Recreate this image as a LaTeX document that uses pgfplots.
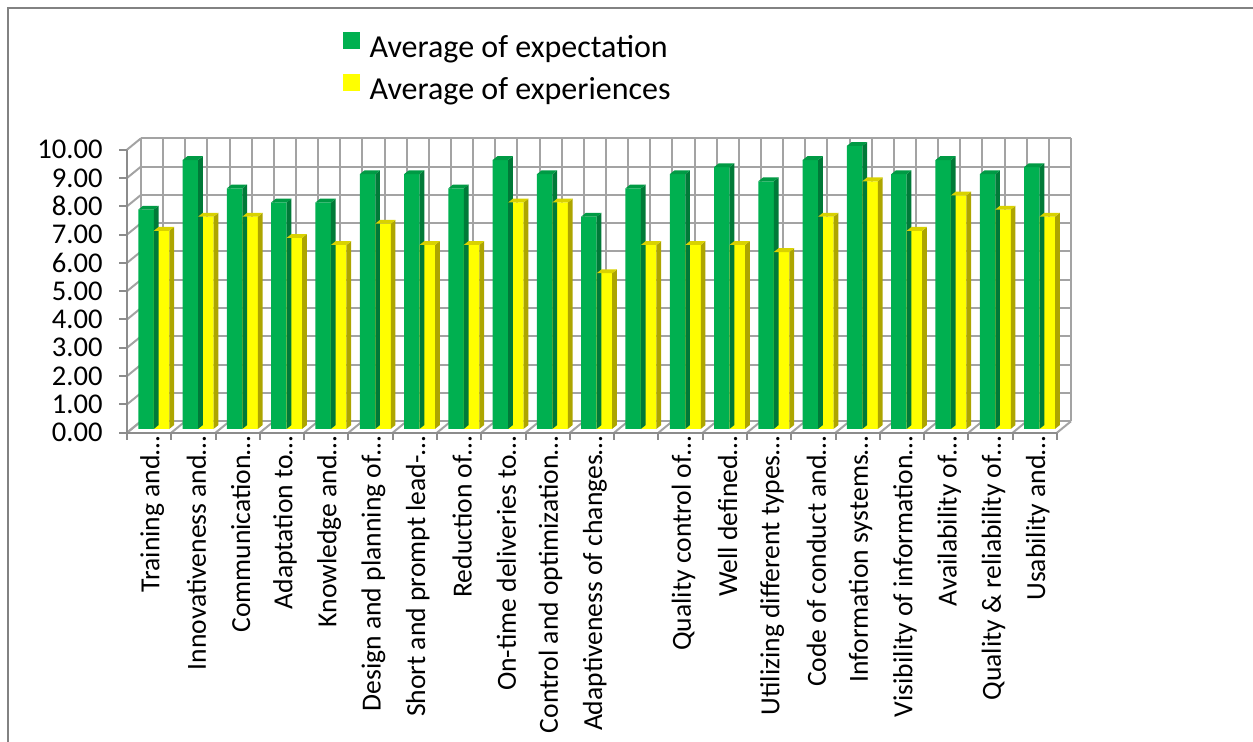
\documentclass[border=0pt]{standalone}
\usepackage{pgfplots}
\pgfplotsset{compat=1.18}
\usepackage{pgfplotstable}
\usepackage{fontspec}
\setmainfont{Carlito}

\definecolor{expfront}{HTML}{00B050}
\definecolor{exptop}{HTML}{009A44}
\definecolor{expside}{HTML}{007A38}
\definecolor{xpfront}{HTML}{FFFF00}
\definecolor{xptop}{HTML}{D9D200}
\definecolor{xpside}{HTML}{ADA500}
\definecolor{wallgrid}{HTML}{A3A3A3}
\definecolor{axisgray}{HTML}{8C8C8C}
\definecolor{framegray}{HTML}{828282}

\pgfplotstableread{
i expect exper
1  7.75 7.00
2  9.50 7.50
3  8.50 7.50
4  8.00 6.75
5  8.00 6.50
6  9.00 7.25
7  9.00 6.50
8  8.50 6.50
9  9.50 8.00
10 9.00 8.00
11 7.50 5.50
12 8.50 6.50
13 9.00 6.50
14 9.25 6.50
15 8.75 6.25
16 9.50 7.50
17 10.00 8.75
18 9.00 7.00
19 9.50 8.25
20 9.00 7.75
21 9.25 7.50
}\ratings

% an empty plot mark: the faces are drawn by the scatter code
\pgfdeclareplotmark{nothing}{}

% side and top faces of a bar, drawn from the centre of its front top edge
% #1 value, #2 side colour, #3 top colour
\newcommand{\barfaces}[3]{%
  \pgfmathsetlengthmacro\barh{#1*14.15pt}%
  \fill[#2] (3.875pt,0pt) -- ++(2.35pt,1.9pt) -- ++(0pt,-\barh) -- ++(-2.35pt,-1.9pt) -- cycle;
  \fill[#3] (-3.875pt,0pt) -- (3.875pt,0pt) -- ++(2.35pt,1.9pt) -- ++(-7.75pt,0pt) -- cycle;
}

\tikzset{
  backwall/.style={shift={(4.65pt,3.8pt)}},
  frontedge/.style={shift={(-2.35pt,-1.9pt)}},
}

\begin{document}
\begin{tikzpicture}
\useasboundingbox (0,0) rectangle (626.5pt,371pt);
% chart area frame
\draw[framegray, line width=1pt] (4.1pt,0pt) -- (4.1pt,366.8pt) -- (626.5pt,366.8pt);

\begin{axis}[
  at={(65.85pt,156.55pt)}, anchor=south west,
  x=22.143pt, y=14.15pt,
  xmin=0.5, xmax=21.5, ymin=0, ymax=10,
  clip=false,
  axis line style={draw=none},
  major tick length=0pt,
  ytick={0,...,10},
  /pgf/number format/fixed,
  /pgf/number format/fixed zerofill,
  /pgf/number format/precision=2,
  /pgf/number format/assume math mode=true,
  yticklabel style={font=\fontsize{14.3}{16}\selectfont, anchor=east,
    inner sep=0pt, xshift=-14.35pt, yshift=-1.9pt},
  xtick={1,...,11,13,14,...,21},
  xticklabels={Training and…, Innovativeness and…, Communication…,
    Adaptation to…, Knowledge and…, Design and planning of…,
    Short and prompt lead-…, Reduction of…, On-time deliveries to…,
    Control and optimization…, Adaptiveness of changes…,
    Quality control of…, Well defined…, Utilizing different types…,
    Code of conduct and…, Information systems…, Visibility of information…,
    Availability of…, Quality \& reliability of…, Usability and…},
  xticklabel style={font=\fontsize{13.8}{16}\selectfont, xshift=-0.9pt, yshift=-3.4pt,
    rotate=90, anchor=east, inner sep=0pt},
  legend style={at={(axis description cs:0.2272,1.4035)}, anchor=north west,
    draw=none, fill=none, inner sep=0pt, row sep=4pt,
    font=\fontsize{16}{18}\selectfont,
    nodes={inner sep=0pt, text height=12pt, text depth=4pt},
    /tikz/every odd column/.append style={column sep=4.6pt}},
  legend cell align=left,
]
% back wall grid
\pgfplotsinvokeforeach{0,...,10}{
  \draw[wallgrid, line width=1pt, backwall] (axis cs:0.5,#1) -- (axis cs:21.5,#1);
  \draw[wallgrid, line width=1pt] ([frontedge]axis cs:0.5,#1) -- ([backwall]axis cs:0.5,#1);
  \draw[axisgray, line width=1pt] ([frontedge]axis cs:0.5,#1) -- ++(-4pt,0pt);
}
\pgfplotsinvokeforeach{0.5,1,...,21.5}{
  \draw[wallgrid, line width=1pt, backwall] (axis cs:#1,0) -- (axis cs:#1,10);
}
% floor
\pgfplotsinvokeforeach{0.5,1.5,...,21.5}{
  \draw[wallgrid, line width=1pt] ([frontedge]axis cs:#1,0) -- ([backwall]axis cs:#1,0);
  \draw[axisgray, line width=1pt] ([frontedge]axis cs:#1,0) -- ++(0pt,-3.5pt);
}
\draw[axisgray, line width=1pt] ([frontedge]axis cs:0.5,0) -- ([frontedge]axis cs:21.5,0);
\draw[axisgray, line width=1pt] ([frontedge]axis cs:0.5,0) -- ([frontedge]axis cs:0.5,10);

% average of expectation
\addplot[ybar, bar width=7.75pt, bar shift=0pt, fill=expfront, draw=none,
  scatter, mark=nothing,
  visualization depends on={\thisrow{expect} \as \barval},
  scatter/@pre marker code/.code={\barfaces{\barval}{expside}{exptop}},
  scatter/@post marker code/.code={},
  legend image code/.code={\fill[expfront] (0pt,0.3pt) rectangle (8.5pt,8.8pt);},
] table[x expr=\thisrow{i}-0.175, y=expect] {\ratings};
\addlegendentry{Average of expectation}

% average of experiences
\addplot[ybar, bar width=7.75pt, bar shift=0pt, fill=xpfront, draw=none,
  scatter, mark=nothing,
  visualization depends on={\thisrow{exper} \as \barval},
  scatter/@pre marker code/.code={\barfaces{\barval}{xpside}{xptop}},
  scatter/@post marker code/.code={},
  legend image code/.code={\fill[xpfront] (0pt,0.3pt) rectangle (8.5pt,8.8pt);},
] table[x expr=\thisrow{i}+0.175, y=exper] {\ratings};
\addlegendentry{Average of experiences}
\end{axis}
\end{tikzpicture}
\end{document}
